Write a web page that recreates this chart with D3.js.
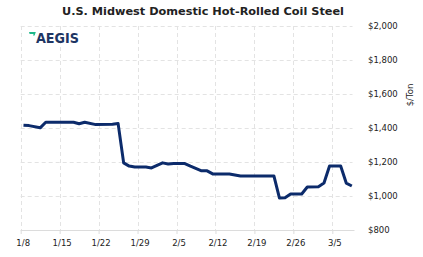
<!DOCTYPE html>
<html>
<head>
<meta charset="utf-8">
<script src="https://cdn.jsdelivr.net/npm/d3@7"></script>
<style>
  html, body { margin: 0; padding: 0; background: #fff; }
  svg { display: block; }
</style>
</head>
<body>
<svg id="chart" width="423" height="257"></svg>
<script>
// ---- data ----
const title = "U.S. Midwest Domestic Hot-Rolled Coil Steel";
const yAxisTitle = "$/Ton";
const dates = [
  "2022-01-08","2022-01-09","2022-01-11","2022-01-12","2022-01-17","2022-01-18",
  "2022-01-19","2022-01-21","2022-01-24","2022-01-25","2022-01-26","2022-01-27",
  "2022-01-28","2022-01-30","2022-01-31","2022-02-02","2022-02-03","2022-02-04",
  "2022-02-06","2022-02-07","2022-02-09","2022-02-10","2022-02-11","2022-02-14",
  "2022-02-16","2022-02-22","2022-02-23","2022-02-24","2022-02-25","2022-02-27",
  "2022-02-28","2022-03-02","2022-03-03","2022-03-04","2022-03-06","2022-03-07",
  "2022-03-08"
];
const prices = [
  1416, 1414, 1401, 1434, 1434, 1425,
  1434, 1420, 1422, 1427, 1195, 1176,
  1170, 1170, 1165, 1195, 1188, 1191,
  1191, 1176, 1148, 1148, 1130, 1130,
  1118, 1118, 988, 990, 1012, 1012,
  1053, 1055, 1076, 1176, 1176, 1076,
  1059
];
const xTickDates = ["2022-01-08","2022-01-15","2022-01-22","2022-01-29","2022-02-05",
                    "2022-02-12","2022-02-19","2022-02-26","2022-03-05"];
const xTickLabels = ["1/8","1/15","1/22","1/29","2/5","2/12","2/19","2/26","3/5"];
const yTicks = [800, 1000, 1200, 1400, 1600, 1800, 2000];
const xDomain = ["2022-01-08T00:00", "2022-03-08T15:00"];
const yDomain = [800, 2000];

// ---- drawing ----
(function () {
const svg = d3.select("#chart");
const parse = s => new Date(s.length > 10 ? s : s + "T12:00");
const parseTick = s => new Date(s + "T00:00");

const pL = 20.7, pR = 352.5, pT = 26, pB = 230;
const x = d3.scaleTime().domain(xDomain.map(s => new Date(s))).range([pL, pR]);
const y = d3.scaleLinear().domain(yDomain).range([pB, pT]);

const font = "'DejaVu Sans', Verdana, sans-serif";

// title
svg.append("text")
  .attr("x", 203).attr("y", 15)
  .attr("text-anchor", "middle")
  .attr("font-family", font).attr("font-weight", "bold").attr("font-size", 11)
  .attr("fill", "#222")
  .attr("textLength", 282).attr("lengthAdjust", "spacingAndGlyphs")
  .text(title);

// grid: horizontal
const xt = xTickDates.map(parseTick);
svg.append("g").selectAll("line").data(yTicks.filter(v => v !== 800)).join("line")
  .attr("x1", pL).attr("x2", pR)
  .attr("y1", d => Math.round(y(d)) + 0.5).attr("y2", d => Math.round(y(d)) + 0.5)
  .attr("stroke", "#e3e3e3").attr("stroke-width", 1)
  .attr("stroke-dasharray", "4,3");

// grid: vertical
svg.append("g").selectAll("line").data(xt).join("line")
  .attr("x1", d => Math.round(x(d)) + 0.5).attr("x2", d => Math.round(x(d)) + 0.5)
  .attr("y1", pT).attr("y2", pB)
  .attr("stroke", "#e3e3e3").attr("stroke-width", 1)
  .attr("stroke-dasharray", "4,3");

// x axis
const xAxis = d3.axisBottom(x).tickValues(xt)
  .tickFormat((d, i) => xTickLabels[i]).tickSize(4).tickSizeOuter(0).tickPadding(4);
const gx = svg.append("g").attr("transform", `translate(0,${pB})`).call(xAxis);
gx.select(".domain").attr("stroke", "#dcdcdc").attr("d", `M${pL},0.5H${pR + 2}`);
gx.selectAll(".tick line").attr("stroke", "#dcdcdc");
gx.selectAll(".tick text").attr("font-family", font).attr("font-size", 8.5)
  .attr("fill", "#222").attr("dx", 2).attr("dy", "0.9em");

// y axis (right)
const yAxis = d3.axisRight(y).tickValues(yTicks)
  .tickFormat(d => "$" + d3.format(",")(d)).tickSize(0).tickPadding(0);
const gy = svg.append("g").attr("transform", `translate(368,0)`).call(yAxis);
gy.select(".domain").remove();
gy.selectAll(".tick text").attr("font-family", font).attr("font-size", 8.5)
  .attr("fill", "#222").attr("x", 0);

// y axis title
svg.append("text")
  .attr("transform", "translate(413,95) rotate(-90)")
  .attr("text-anchor", "middle")
  .attr("font-family", font).attr("font-size", 8.5).attr("fill", "#222")
  .text(yAxisTitle);

// logo
const logo = svg.append("g");
logo.append("path")
  .attr("d", "M29,32 L35.8,32 L34.6,35.6 L33,35.6 L33.6,34 L29.6,34 Z")
  .attr("fill", "#1fb889");
logo.append("text")
  .attr("x", 36).attr("y", 42.7)
  .attr("font-family", font).attr("font-weight", "bold").attr("font-size", 13.5)
  .attr("fill", "#1e3563")
  .attr("textLength", 43).attr("lengthAdjust", "spacingAndGlyphs")
  .text("AEGIS");

// line
const data = dates.map((d, i) => ({ date: parse(d), value: prices[i] }));
svg.append("path")
  .datum(data)
  .attr("fill", "none")
  .attr("stroke", "#0c2b6b")
  .attr("stroke-width", 3)
  .attr("stroke-linejoin", "round")
  .attr("d", d3.line().x(d => x(d.date)).y(d => y(d.value)));
})();
</script>
</body>
</html>
